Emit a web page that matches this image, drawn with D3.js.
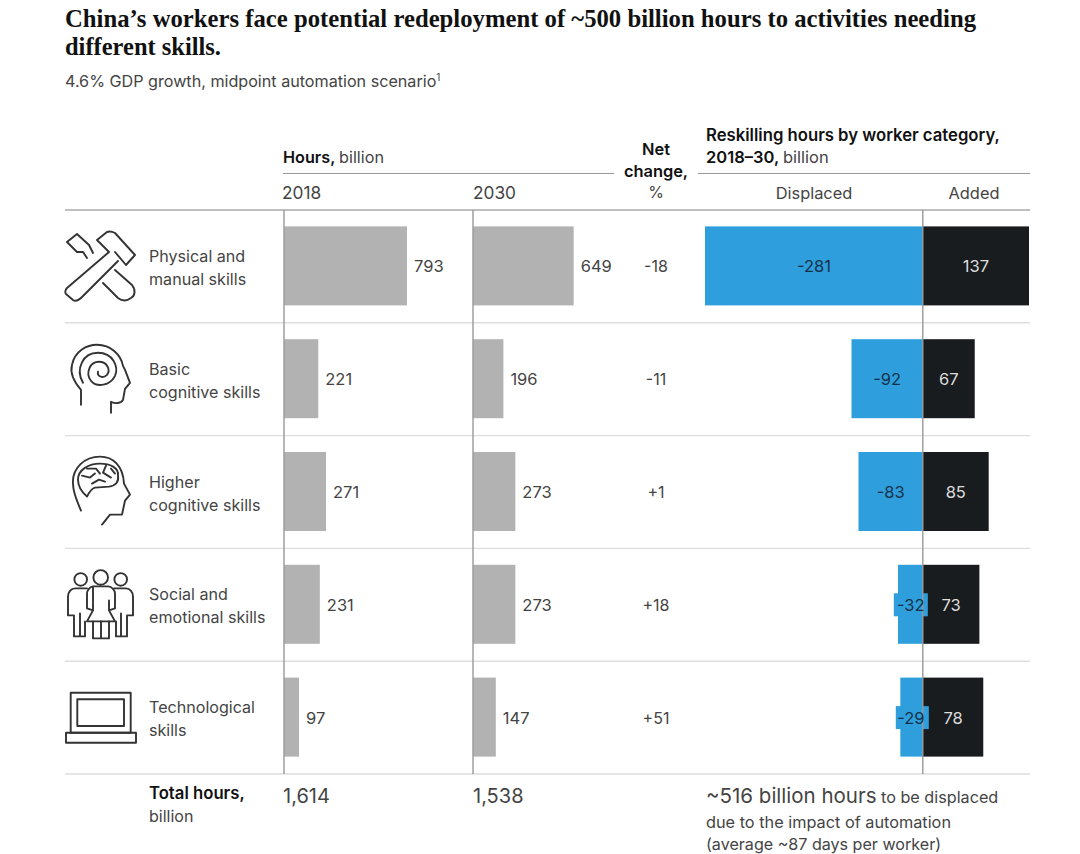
<!DOCTYPE html>
<html>
<head>
<meta charset="utf-8">
<script src="https://cdn.jsdelivr.net/npm/d3@7"></script>
<style>
  html, body { margin: 0; background: #fff; }
  svg { display: block; }
  text { font-family: Inter, "Liberation Sans", sans-serif; fill: #444; }
  .title { font-family: "Liberation Serif", serif; font-weight: 700; font-size: 24.5px; fill: #111; }
  .bold { font-weight: 600; fill: #111; }
  .light { font-weight: 400; fill: #444; }
  .icon { fill: none; stroke: #333; stroke-width: 1.9; stroke-linejoin: round; stroke-linecap: round; }
</style>
</head>
<body>
<div id="chart"></div>
<script>
const categories = ['physical', 'basic', 'higher', 'social', 'tech']
const skillLabels = [
  ['Physical and', 'manual skills'],
  ['Basic', 'cognitive skills'],
  ['Higher', 'cognitive skills'],
  ['Social and', 'emotional skills'],
  ['Technological', 'skills']
]
const hours2018 = [793, 221, 271, 231, 97]
const hours2030 = [649, 196, 273, 273, 147]
const netChange = ['-18', '-11', '+1', '+18', '+51']
const displaced = [-281, -92, -83, -32, -29]
const added = [137, 67, 85, 73, 78]
const totals = ['1,614', '1,538']

const width = 1080
const height = 854
const svg = d3.select('#chart').append('svg')
  .attr('width', width)
  .attr('height', height)

const y = d3.scaleBand().domain(categories).range([210, 774])
const barHeight = 79
const barY = (d) => y(d) + (y.bandwidth() - barHeight) / 2 - 0.5
const midY = (d) => y(d) + y.bandwidth() / 2

const x2018 = d3.scaleLinear().domain([0, 793]).range([284, 407])
const x2030 = d3.scaleLinear().domain([0, 793]).range([473, 596])
const xReskill = d3.scaleLinear().domain([-281, 137]).range([705, 1029])

function line(x1, x2, yy, color, w) {
  svg.append('line')
    .attr('x1', x1).attr('x2', x2)
    .attr('y1', yy).attr('y2', yy)
    .attr('stroke', color).attr('stroke-width', w)
}

function label(txt, x, yy, size, anchor, cls) {
  return svg.append('text')
    .attr('x', x).attr('y', yy)
    .attr('font-size', size)
    .attr('text-anchor', anchor || 'start')
    .attr('class', cls || null)
    .text(txt)
}

// title block
label('China\u2019s workers face potential redeployment of ~500 billion hours to activities needing', 65, 27, 24.5, 'start', 'title')
  .attr('textLength', 911)
  .attr('lengthAdjust', 'spacingAndGlyphs')
label('different skills.', 65, 55, 24.5, 'start', 'title')
  .attr('textLength', 156)
  .attr('lengthAdjust', 'spacingAndGlyphs')
const sub = label('4.6% GDP growth, midpoint automation scenario', 65, 87, 16.15)
sub.append('tspan').attr('font-size', 10).attr('dy', -6).text('1')

// column headers
label('Hours, ', 283, 163, 16.2, 'start', 'bold')
  .append('tspan').attr('class', 'light').text('billion')
label('Net', 656, 155, 16.4, 'middle', 'bold')
label('change,', 656, 177, 16.4, 'middle', 'bold')
label('%', 656, 198, 16, 'middle')
label('Reskilling hours by worker category,', 706, 141, 16.7, 'start', 'bold')
label('2018\u201330, ', 706, 163, 16.5, 'start', 'bold')
  .append('tspan').attr('class', 'light').text('billion')
label('2018', 282, 199, 17.3)
label('2030', 473, 199, 17.3)
label('Displaced', 814, 199, 16.4, 'middle')
label('Added', 974, 199, 16.4, 'middle')

line(283, 614, 173.5, '#999', 1.2)
line(698, 1030, 173.5, '#999', 1.2)
line(65, 1030, 210, '#aaa', 1.4)

// row separators
categories.slice(1).forEach((d) => line(65, 1030, y(d), '#ddd', 1.4))
line(65, 1030, 774, '#ddd', 1.4)

// hours bars
const hourColumns = [
  {scale: x2018, values: hours2018},
  {scale: x2030, values: hours2030}
]
hourColumns.forEach(({scale, values}) => {
  svg.append('g').selectAll('rect').data(values)
    .enter().append('rect')
      .attr('x', scale(0))
      .attr('y', (d, i) => barY(categories[i]))
      .attr('width', (d) => scale(d) - scale(0))
      .attr('height', barHeight)
      .attr('fill', '#b2b2b2')
  svg.append('g').selectAll('text').data(values)
    .enter().append('text')
      .attr('x', (d) => scale(d) + 7)
      .attr('y', (d, i) => midY(categories[i]) + 6)
      .attr('font-size', 16.5)
      .text((d) => d)
  svg.append('line')
    .attr('x1', scale(0)).attr('x2', scale(0))
    .attr('y1', 210).attr('y2', 774)
    .attr('stroke', '#999').attr('stroke-width', 1.4)
})

// net change
svg.append('g').selectAll('text').data(netChange)
  .enter().append('text')
    .attr('x', 656)
    .attr('y', (d, i) => midY(categories[i]) + 6)
    .attr('font-size', 16)
    .attr('text-anchor', 'middle')
    .text((d) => d)

// reskilling bars
svg.append('g').selectAll('rect').data(displaced)
  .enter().append('rect')
    .attr('x', (d) => xReskill(d))
    .attr('y', (d, i) => barY(categories[i]))
    .attr('width', (d) => xReskill(0) - xReskill(d))
    .attr('height', barHeight)
    .attr('fill', '#2e9fdc')
svg.append('g').selectAll('rect').data(added)
  .enter().append('rect')
    .attr('x', xReskill(0))
    .attr('y', (d, i) => barY(categories[i]))
    .attr('width', (d) => xReskill(d) - xReskill(0))
    .attr('height', barHeight)
    .attr('fill', '#191c1f')

// label plates for the bars too narrow to hold their number
const plateWidth = (d) => d > -30 ? 33 : 34
svg.append('g').selectAll('rect').data(displaced.filter((d) => d > -40))
  .enter().append('rect')
    .attr('x', (d) => xReskill(0) - plateWidth(d) + (d > -30 ? 6 : 5))
    .attr('y', (d) => midY(categories[displaced.indexOf(d)]) - 11.5)
    .attr('width', plateWidth)
    .attr('height', 23)
    .attr('fill', '#2e9fdc')

svg.append('line')
  .attr('x1', xReskill(0)).attr('x2', xReskill(0))
  .attr('y1', 210).attr('y2', 774)
  .attr('stroke', '#999').attr('stroke-width', 1.4)

svg.append('g').selectAll('text').data(displaced)
  .enter().append('text')
    .attr('x', (d) => d > -40 ? xReskill(0) - 12 : (xReskill(d) + xReskill(0)) / 2)
    .attr('y', (d, i) => midY(categories[i]) + 6)
    .attr('font-size', 16.5)
    .attr('text-anchor', 'middle')
    .style('fill', '#16324a')
    .text((d) => d)
svg.append('g').selectAll('text').data(added)
  .enter().append('text')
    .attr('x', (d) => (xReskill(d) + xReskill(0)) / 2)
    .attr('y', (d, i) => midY(categories[i]) + 6)
    .attr('font-size', 16.5)
    .attr('text-anchor', 'middle')
    .style('fill', '#ddd')
    .text((d) => d)

// row labels
skillLabels.forEach((lines, i) => {
  lines.forEach((txt, j) => {
    label(txt, 149, midY(categories[i]) - 4.5 + j * 23, 16.1)
  })
})

// icons
const icon = (cat) => svg.append('g')
  .attr('class', 'icon')
  .attr('transform', `translate(65, ${y(cat)})`)

const hammer = icon('physical')
hammer.append('path').attr('d', 'M44 42 L32 30 L42 22 C45 21 48 22 50 23 L70 45 L61 55 L50 42 M44 42 L2 78 C0 80 0 83 1 84 L8 90 C11 92 14 90 17 87 L53 51')
hammer.append('path').attr('d', 'M24 35 L12 24 L2 32 L12 42 L18 42 L22 48 M24 35 L28 43')
hammer.append('path').attr('d', 'M50 60 L67 75 C71 80 70 86 66 88 C62 91 57 91 53 88 L38 73')

const spiralG = icon('basic')
spiralG.append('path').attr('d', 'M16 82 L16 67 C8 58 5 50 7 42 C10 28 22 22 32 22 C46 22 56 32 58 43 L60 47 L65 60 L60 66 L58 77 C56 81 50 81 46 79 L46 90')
spiralG.append('path').attr('d', 'M18 60 C10 46 18 30 33 30 C48 30 54 44 50 53 C45 63 32 65 26 58 C20 50 25 39 34 39 C42 39 46 47 42 52 C38 56 32 54 33 49')

const brainG = icon('higher')
brainG.append('path').attr('d', 'M16 75 C12 65 8 58 8 48 C7 32 20 21 35 21 C48 21 58 30 59 48 L65 59 L60 65 L57 79 L45 79 L37 89')
brainG.append('path').attr('d', 'M22 61 C16 56 13 50 13 44 C13 34 24 28 35 28 C45 28 54 32 53 40 C54 46 51 50 44 51 L30 52 C26 53 24 57 22 61 Z')
brainG.append('path').attr('d', 'M17 40 L25 42 L30 38 M22 33 L31 33 L35 38 M41 30 L38 37 L46 42 M27 48 L34 44 L40 46 M46 33 L50 38')

const people = icon('social')
people.append('circle').attr('cx', 15.7).attr('cy', 31).attr('r', 6.3)
people.append('circle').attr('cx', 35.7).attr('cy', 29).attr('r', 7.3)
people.append('circle').attr('cx', 55.7).attr('cy', 31).attr('r', 6.3)
people.append('path').attr('d', 'M22 40 L10 40 C6 40 3 44 3 48 L3 67 L9 67 L9 88 L20 88 L20 73 M15 65 L15 88')
people.append('path').attr('d', 'M49 40 L61 40 C65 40 68 44 68 48 L68 67 L62 67 L62 88 L51 88 L51 73 M56 65 L56 88')
people.append('path').attr('d', 'M28 38 L43 38 C47 38 50 42 50 45 L50 60 L44 62 L44 52 M44 62 L50 73 L22 73 L28 62 L28 52 M28 62 L22 60 L22 45 C22 42 25 38 28 38 Z')
people.append('path').attr('d', 'M28 73 L28 90 L44 90 L44 73 M36 73 L36 90')

const laptop = icon('tech')
laptop.append('rect').attr('x', 5.7).attr('y', 31.5).attr('width', 60).attr('height', 40)
laptop.append('rect').attr('x', 12.3).attr('y', 38).attr('width', 46.7).attr('height', 26.8)
laptop.append('rect').attr('x', 1).attr('y', 71.5).attr('width', 70).attr('height', 10)

// totals
label('Total hours,', 149, 799, 16.7, 'start', 'bold')
label('billion', 149, 822, 16)
label(totals[0], 283, 803, 20)
label(totals[1], 473, 803, 20)
const foot = label('~516 billion hours', 706, 803, 20.5)
foot.append('tspan').attr('font-size', 16.2).text(' to be displaced')
label('due to the impact of automation', 706, 828, 16.3)
label('(average ~87 days per worker)', 706, 850, 16.1)
</script>
</body>
</html>
